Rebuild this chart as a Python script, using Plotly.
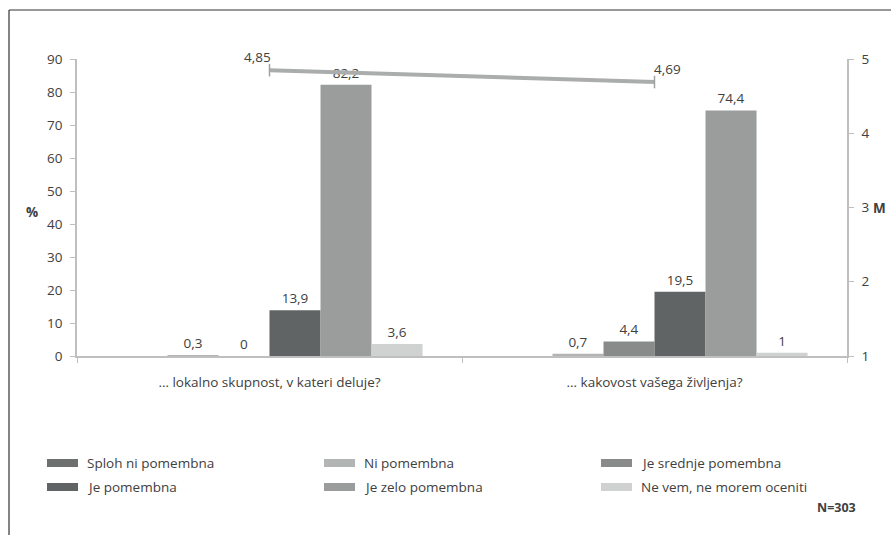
import plotly.graph_objects as go

categories = ["… lokalno skupnost, v kateri deluje?", "… kakovost vašega življenja?"]
series_names = ["Sploh ni pomembna", "Ni pomembna", "Je srednje pomembna",
                "Je pomembna", "Je zelo pomembna", "Ne vem, ne morem oceniti"]
series_values = [
    [None, None],
    [0.3, 0.7],
    [0, 4.4],
    [13.9, 19.5],
    [82.2, 74.4],
    [3.6, 1],
]
series_colors = ["#6e7070", "#b3b5b5", "#898b8b", "#616464", "#9b9d9d", "#d0d1d1"]
mean_values = [4.85, 4.69]
y_ticks = [0, 10, 20, 30, 40, 50, 60, 70, 80, 90]
y2_ticks = [1, 2, 3, 4, 5]

FONT = "Open Sans"
FS = 13.5
TXT = "#404040"
AX = "#bfbfbf"

def fmt(v):
    if v is None:
        return ""
    return ("%g" % v).replace(".", ",")

fig = go.Figure()
for name, vals, col in zip(series_names, series_values, series_colors):
    fig.add_trace(go.Bar(
        x=categories, y=vals, name=name, marker=dict(color=col, line=dict(width=0)),
        text=[fmt(v) for v in vals], textposition="outside",
        textfont=dict(family=FONT, size=FS, color=TXT), cliponaxis=False,
        showlegend=False,
    ))

fig.add_trace(go.Scatter(
    x=categories, y=mean_values, yaxis="y2", mode="lines+markers",
    line=dict(color="#abadad", width=4),
    marker=dict(symbol="line-ns", size=9, line=dict(color="#a0a2a2", width=1.5)),
    showlegend=False, cliponaxis=False,
))

L, R, T, B = 77, 44, 59, 179
W, H = 891, 535
pw, ph = W - L - R, H - T - B

def px(x):
    return (x - L) / pw

def py(y):
    return (H - B - y) / ph

shapes = []
annotations = []
# mean labels
for i, (cat, v) in enumerate(zip(categories, mean_values)):
    annotations.append(dict(xref="x", yref="y2", x=cat, y=v, text=fmt(v), showarrow=False,
                            xanchor="right" if i == 0 else "left", yanchor="bottom",
                            xshift=3 if i == 0 else -3, yshift=2,
                            font=dict(family=FONT, size=FS, color=TXT)))
# manual legend
cols_x = [47, 324, 601]
rows_y = [463, 487]
for i, (name, col) in enumerate(zip(series_names, series_colors)):
    r, c = divmod(i, 3)
    x0 = cols_x[c]
    yc = rows_y[r]
    shapes.append(dict(type="rect", xref="paper", yref="paper",
                       x0=px(x0), x1=px(x0 + 31), y0=py(yc + 4), y1=py(yc - 4),
                       fillcolor=col, line=dict(width=0)))
    annotations.append(dict(xref="paper", yref="paper", x=px(x0 + 38), y=py(yc),
                            text=name, showarrow=False, xanchor="left", yanchor="middle",
                            font=dict(family=FONT, size=FS, color=TXT)))
# border (top and left)
shapes.append(dict(type="line", xref="paper", yref="paper", x0=px(9), x1=px(891),
                   y0=py(10), y1=py(10), line=dict(color="#333333", width=1.2)))
shapes.append(dict(type="line", xref="paper", yref="paper", x0=px(9), x1=px(9),
                   y0=py(10), y1=py(536), line=dict(color="#333333", width=1.2)))
# axis titles and note
annotations.append(dict(xref="paper", yref="paper", x=px(32), y=py(212), text="<b>%</b>",
                        showarrow=False, xanchor="center", yanchor="middle",
                        font=dict(family=FONT, size=FS, color=TXT)))
annotations.append(dict(xref="paper", yref="paper", x=px(871), y=py(208), text="<b>M</b>",
                        showarrow=False, xanchor="left", yanchor="middle",
                        font=dict(family=FONT, size=FS, color=TXT)))
annotations.append(dict(xref="paper", yref="paper", x=px(858), y=py(508), text="<b>N=303</b>",
                        showarrow=False, xanchor="right", yanchor="middle",
                        font=dict(family=FONT, size=12.5, color=TXT)))

fig.update_layout(
    width=W, height=H, margin=dict(l=L, r=R, t=T, b=B),
    paper_bgcolor="white", plot_bgcolor="white",
    barmode="group", bargap=0.205, bargroupgap=0,
    font=dict(family=FONT, size=FS, color=TXT),
    xaxis=dict(type="category", showline=True, linecolor=AX, linewidth=1.5,
               ticks="outside", tickson="boundaries", ticklen=5, tickcolor=AX,
               ticklabelstandoff=13, showgrid=False, zeroline=False),
    yaxis=dict(range=[0, 90], tickvals=y_ticks, showline=True, linecolor=AX, linewidth=1.5,
               ticks="outside", ticklen=5, tickcolor=AX, showgrid=False, zeroline=False,
               ticklabelstandoff=5),
    yaxis2=dict(range=[1, 5], tickvals=y2_ticks, overlaying="y", side="right",
                showline=True, linecolor=AX, linewidth=1.5, ticks="outside", ticklen=5,
                tickcolor=AX, showgrid=False, zeroline=False, ticklabelstandoff=5),
    shapes=shapes, annotations=annotations, showlegend=False,
)

fig.write_html("out.html")
